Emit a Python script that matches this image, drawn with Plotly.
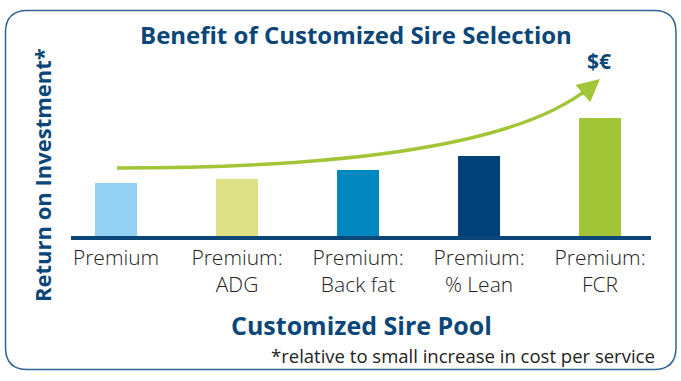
import plotly.graph_objects as go

categories = ["Premium", "Premium:<br>ADG", "Premium:<br>Back fat", "Premium:<br>% Lean", "Premium:<br>FCR"]
values = [53, 57, 66, 80, 118]
bar_colors = ["#92D1F3", "#DDE085", "#0087C0", "#00417A", "#A2C437"]

TITLE = "Benefit of Customized Sire Selection"
YTITLE = "Return on Investment*"
XTITLE = "Customized Sire Pool"
NOTE = "*relative to small increase in cost per service"

W, H = 681, 381
L, R, T, B = 71, 30, 66, 145
PW, PH = W - L - R, H - T - B
NAVY = "#0B4679"
GREEN = "#A2C437"


def px(x, y):
    return (x - L) / PW, (H - B - y) / PH


def P(x, y):
    a, b = px(x, y)
    return f"{a:.5f},{b:.5f}"


fig = go.Figure(go.Bar(x=categories, y=values, marker=dict(color=bar_colors, line=dict(width=0)),
                       hoverinfo="skip"))

# rounded border
x0, y0, x1, y1, r = 5.5, 10.5, 676, 369.5, 22
path = (f"M {P(x0 + r, y0)} L {P(x1 - r, y0)} Q {P(x1, y0)} {P(x1, y0 + r)} "
        f"L {P(x1, y1 - r)} Q {P(x1, y1)} {P(x1 - r, y1)} L {P(x0 + r, y1)} "
        f"Q {P(x0, y1)} {P(x0, y1 - r)} L {P(x0, y0 + r)} Q {P(x0, y0)} {P(x0 + r, y0)} Z")
shapes = [dict(type="path", xref="paper", yref="paper", path=path,
               line=dict(color="#2E6395", width=1.5), layer="below")]

# trend curve
curve = f"M {P(117, 168)} Q {P(492, 168)} {P(590, 87)}"
shapes.append(dict(type="path", xref="paper", yref="paper", path=curve,
                   line=dict(color=GREEN, width=3.5)))

ax_, ay_ = px(600, 79)
annotations = [
    dict(x=ax_, y=ay_, xref="paper", yref="paper", ax=-20, ay=17, showarrow=True,
         arrowhead=2, arrowsize=1.5, arrowwidth=3, arrowcolor=GREEN, text=""),
]


def txt(text, x, y, size, color, bold=False, angle=0, xanchor="center", family="Open Sans"):
    a, b = px(x, y)
    return dict(text=text, x=a, y=b, xref="paper", yref="paper", showarrow=False,
                textangle=angle, xanchor=xanchor, yanchor="middle",
                font=dict(family=family, size=size, color=color, weight=700 if bold else 400))


annotations += [
    txt(TITLE, 356, 34, 24, NAVY, bold=True),
    txt(YTITLE, 42, 175, 22, NAVY, bold=True, angle=-90),
    txt(XTITLE, 362, 325, 25, NAVY, bold=True),
    txt(NOTE, 657, 355, 18.5, "#222222", xanchor="right"),
    txt("$€", 599, 61, 21, NAVY, bold=True),
]

fig.update_layout(
    width=W, height=H, margin=dict(l=L, r=R, t=T, b=B),
    paper_bgcolor="white", plot_bgcolor="white", showlegend=False,
    bargap=0.653, shapes=shapes, annotations=annotations,
    xaxis=dict(range=[-0.372, 4.421], showline=True, linecolor=NAVY, linewidth=3.5,
               showgrid=False, zeroline=False, ticks="", fixedrange=True,
               tickfont=dict(family="Open Sans", size=21, color="#222222", weight=300)),
    yaxis=dict(range=[0, PH], visible=False, fixedrange=True),
)

fig.write_html("out.html", config={"displayModeBar": False},
               post_script="document.body.style.margin='0';")
